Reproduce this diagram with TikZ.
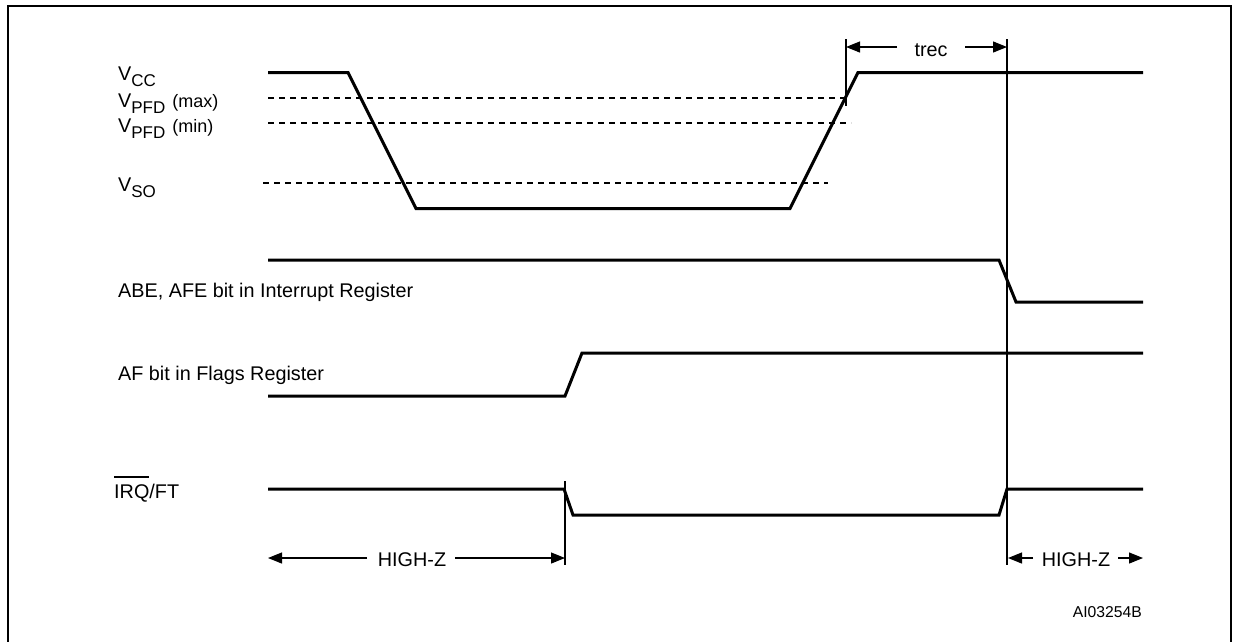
\documentclass[tikz,border=0pt]{standalone}
\usepackage{fontspec}
\setmainfont{Liberation Sans}
\usetikzlibrary{arrows.meta}
\newcommand\sbs[1]{\raisebox{-6pt}{\fontsize{17}{20}\selectfont #1}}
\newcommand\ovl[1]{\setbox0\hbox{#1}\rlap{\raisebox{20.5pt}{\rule{\wd0}{1.2pt}}}\box0}
\tikzset{
  wave/.style={line width=3pt, line join=miter},
  guide/.style={line width=1.2pt},
  refdash/.style={line width=1.2pt, dash pattern=on 6pt off 5pt},
  dimarrow/.style={line width=1.2pt, -{Triangle[length=14pt,width=11pt]}},
  lbl/.style={inner sep=0pt, anchor=base west, font=\fontsize{19.8}{24}\selectfont},
  clbl/.style={inner sep=0pt, anchor=base, font=\fontsize{19.8}{24}\selectfont},
  frame/.style={line width=2pt}
}
\begin{document}
\begin{tikzpicture}[x=1pt,y=-1pt]
\useasboundingbox (0,0) rectangle (1233,641);
\clip (0,0) rectangle (1233,641);
% frame
\draw[frame] (7.5,700) -- (7.5,5.7) -- (1231,5.7) -- (1231,700);

% labels
\node[lbl] (vcc)  at (118,80)  {V\sbs{CC}};
\node[lbl] (vmax) at (118,107) {V\sbs{PFD}\hspace{7pt}{\fontsize{18}{20}\selectfont (max)}};
\node[lbl] (vmin) at (118,132) {V\sbs{PFD}\hspace{7pt}{\fontsize{18}{20}\selectfont (min)}};
\node[lbl] (vso)  at (118,191) {V\sbs{SO}};
\node[lbl] (abe)  at (118,297) {ABE, AFE bit in Interrupt Register};
\node[lbl] (af)   at (118,380) {AF bit in Flags Register};
\node[lbl] (irq)  at (114,498) {\ovl{IRQ}/FT};

% dashed reference levels
\draw[refdash] (268,98) -- (846,98);
\draw[refdash] (268,123) -- (851,123);
\draw[refdash] (263,183) -- (828,183);

% waveforms
\draw[wave] (268,72.5) -- (348,72.5) -- (416,208.5) -- (790,208.5) -- (858,72.5) -- (1143,72.5);
\draw[wave] (268,260) -- (999,260) -- (1016,302) -- (1143,302);
\draw[wave] (268,396) -- (565,396) -- (582,353) -- (1143,353);
\draw[wave] (268,489) -- (564,489) -- (573,515) -- (999,515) -- (1007,489) -- (1143,489);

% guide lines
\coordinate (t1top) at (846,39);
\coordinate (t1bot) at (846,106);
\coordinate (t2top) at (1007,39);
\coordinate (t2bot) at (1007,565);
\coordinate (h1top) at (565,481);
\coordinate (h1bot) at (565,565);
\draw[guide] (t1top) -- (t1bot);
\draw[guide] (t2top) -- (t2bot);
\draw[guide] (h1top) -- (h1bot);

% trec
\node[clbl] (trec) at (931,56) {trec};
\coordinate (trecL) at (846,47);
\coordinate (trecR) at (1007,47);
\draw[dimarrow] (897,47) -- (trecL);
\draw[dimarrow] (965,47) -- (trecR);

% HIGH-Z left
\node[clbl] (hz1) at (412,566) {HIGH-Z};
\coordinate (hz1L) at (268,558);
\coordinate (hz1R) at (565,558);
\draw[dimarrow] (367,558) -- (hz1L);
\draw[dimarrow] (455,558) -- (hz1R);

% HIGH-Z right
\node[clbl] (hz2) at (1076,566) {HIGH-Z};
\coordinate (hz2L) at (1008,558);
\coordinate (hz2R) at (1143,558);
\draw[dimarrow] (1033,558) -- (hz2L);
\draw[dimarrow] (1118,558) -- (hz2R);

% figure id
\node[inner sep=0pt, anchor=base east, font=\fontsize{15.7}{18}\selectfont] (fid) at (1142,617) {AI03254B};
\end{tikzpicture}
\end{document}
